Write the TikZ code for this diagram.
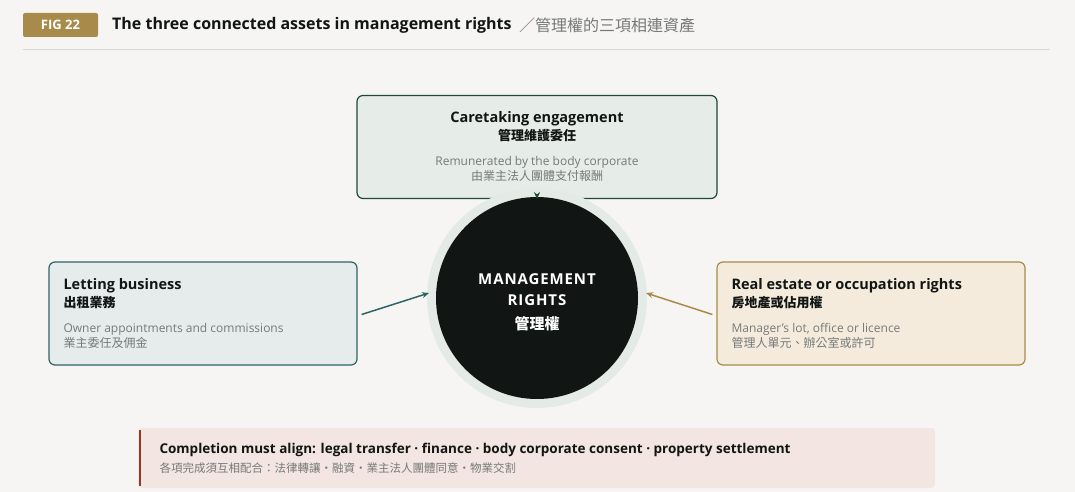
\documentclass[tikz,border=0pt]{standalone}
\usepackage{fontspec}
\setmainfont{Open Sans}
\newfontfamily\cjk{Noto Sans CJK TC}
\usetikzlibrary{arrows.meta}
\definecolor{bgpaper}{HTML}{F6F5F3}
\definecolor{gold}{HTML}{A88B4A}
\definecolor{ink}{HTML}{111513}
\definecolor{greyt}{HTML}{77797A}
\definecolor{greenline}{HTML}{1F4A35}
\definecolor{greenfill}{HTML}{E6ECE8}
\definecolor{tealline}{HTML}{2F6466}
\definecolor{tealfill}{HTML}{E5ECEB}
\definecolor{tanfill}{HTML}{F4EBDD}
\definecolor{redfill}{HTML}{F3E5E1}
\definecolor{redline}{HTML}{8E3B2E}
\definecolor{halo}{HTML}{E4EAE6}
\tikzset{
  box/.style={draw,rounded corners=6pt,line width=1.2pt,minimum width=#1,minimum height=103pt,inner sep=0pt},
  title/.style={font=\fontsize{14.5}{18}\selectfont\bfseries,text=ink,anchor=west},
  sub/.style={font=\fontsize{12}{15}\selectfont,text=greyt,anchor=west},
}
\begin{document}
\begin{tikzpicture}[x=1pt,y=-1pt,>={Stealth[length=7pt,width=6pt]}]
\useasboundingbox[fill=bgpaper] (0,0) rectangle (1075,492);
% header
\node[fill=gold,rounded corners=2pt,minimum width=75pt,minimum height=24pt,text=white,font=\fontsize{13}{15}\selectfont\bfseries] (tag) at (60.5,25) {FIG 22};
\node[anchor=west,font=\fontsize{16}{19}\selectfont\bfseries,text=ink,inner sep=0pt] (head) at (112,25) {The three connected assets in management rights};
\node[anchor=west,font=\fontsize{16}{19}\selectfont\cjk,text=greyt,inner sep=0pt] (headzh) at (head.east) {\ \ ／管理權的三項相連資產};
\draw[black!15,line width=0.8pt] (23,49) -- (1050,49);
% boxes
\node[box=360pt,color=greenline,fill=greenfill] (care) at (537,147) {};
\node[box=308pt,color=tealline,fill=tealfill] (let) at (203,313.5) {};
\node[box=308pt,color=gold,fill=tanfill] (real) at (871,313.5) {};
% centre
\fill[halo] (537,298) circle (110pt);
\node[circle,fill=ink,minimum size=202pt,inner sep=0pt] (mr) at (537,298) {};
\node[text=white,align=center,font=\fontsize{15}{21}\selectfont\bfseries\addfontfeature{LetterSpace=6}] (mrt) at (537,302) {MANAGEMENT\\RIGHTS\\[3pt]{\cjk 管理權}};
% box texts
\node[align=center,font=\fontsize{14.5}{18}\selectfont\bfseries,text=ink] (caret) at (537,127) {Caretaking engagement\\{\cjk\fontsize{13}{16}\selectfont 管理維護委任}};
\node[align=center,font=\fontsize{12}{15}\selectfont,text=greyt] (cares) at (537,169) {Remunerated by the body corporate\\{\cjk 由業主法人團體支付報酬}};
\node[title,align=left] (lett) at (60,294) {Letting business\\{\cjk\fontsize{13}{16}\selectfont 出租業務}};
\node[sub,align=left] (lets) at (60,336) {Owner appointments and commissions\\{\cjk 業主委任及佣金}};
\node[title,align=left] (realt) at (728,294) {Real estate or occupation rights\\{\cjk\fontsize{13}{16}\selectfont 房地產或佔用權}};
\node[sub,align=left] (reals) at (728,336) {Manager’s lot, office or licence\\{\cjk 管理人單元、辦公室或許可}};
% arrows
\draw[->,greenline,line width=1.5pt] (mr.north) -- (care.south);
\draw[->,tealline,line width=1.5pt] (let.east) ++(4,1) coordinate (la) (la) -- (429,293) coordinate (lb);
\draw[->,gold,line width=1.5pt] (real.west) ++(-4,1) coordinate (ra) (ra) -- (646,293) coordinate (rb);
% footer
\fill[redfill,rounded corners=4pt] (138,428) rectangle (935,488);
\draw[redline,line width=2.5pt] (140,430) -- (140,486);
\node[anchor=west,font=\fontsize{13.5}{16}\selectfont\bfseries,text=ink] (foot) at (156,450) {Completion must align: legal transfer · finance · body corporate consent · property settlement};
\node[anchor=west,font=\fontsize{11.5}{14}\selectfont\cjk,text=greyt] (footzh) at (156,468) {各項完成須互相配合：法律轉讓・融資・業主法人團體同意・物業交割};
\end{tikzpicture}
\end{document}
